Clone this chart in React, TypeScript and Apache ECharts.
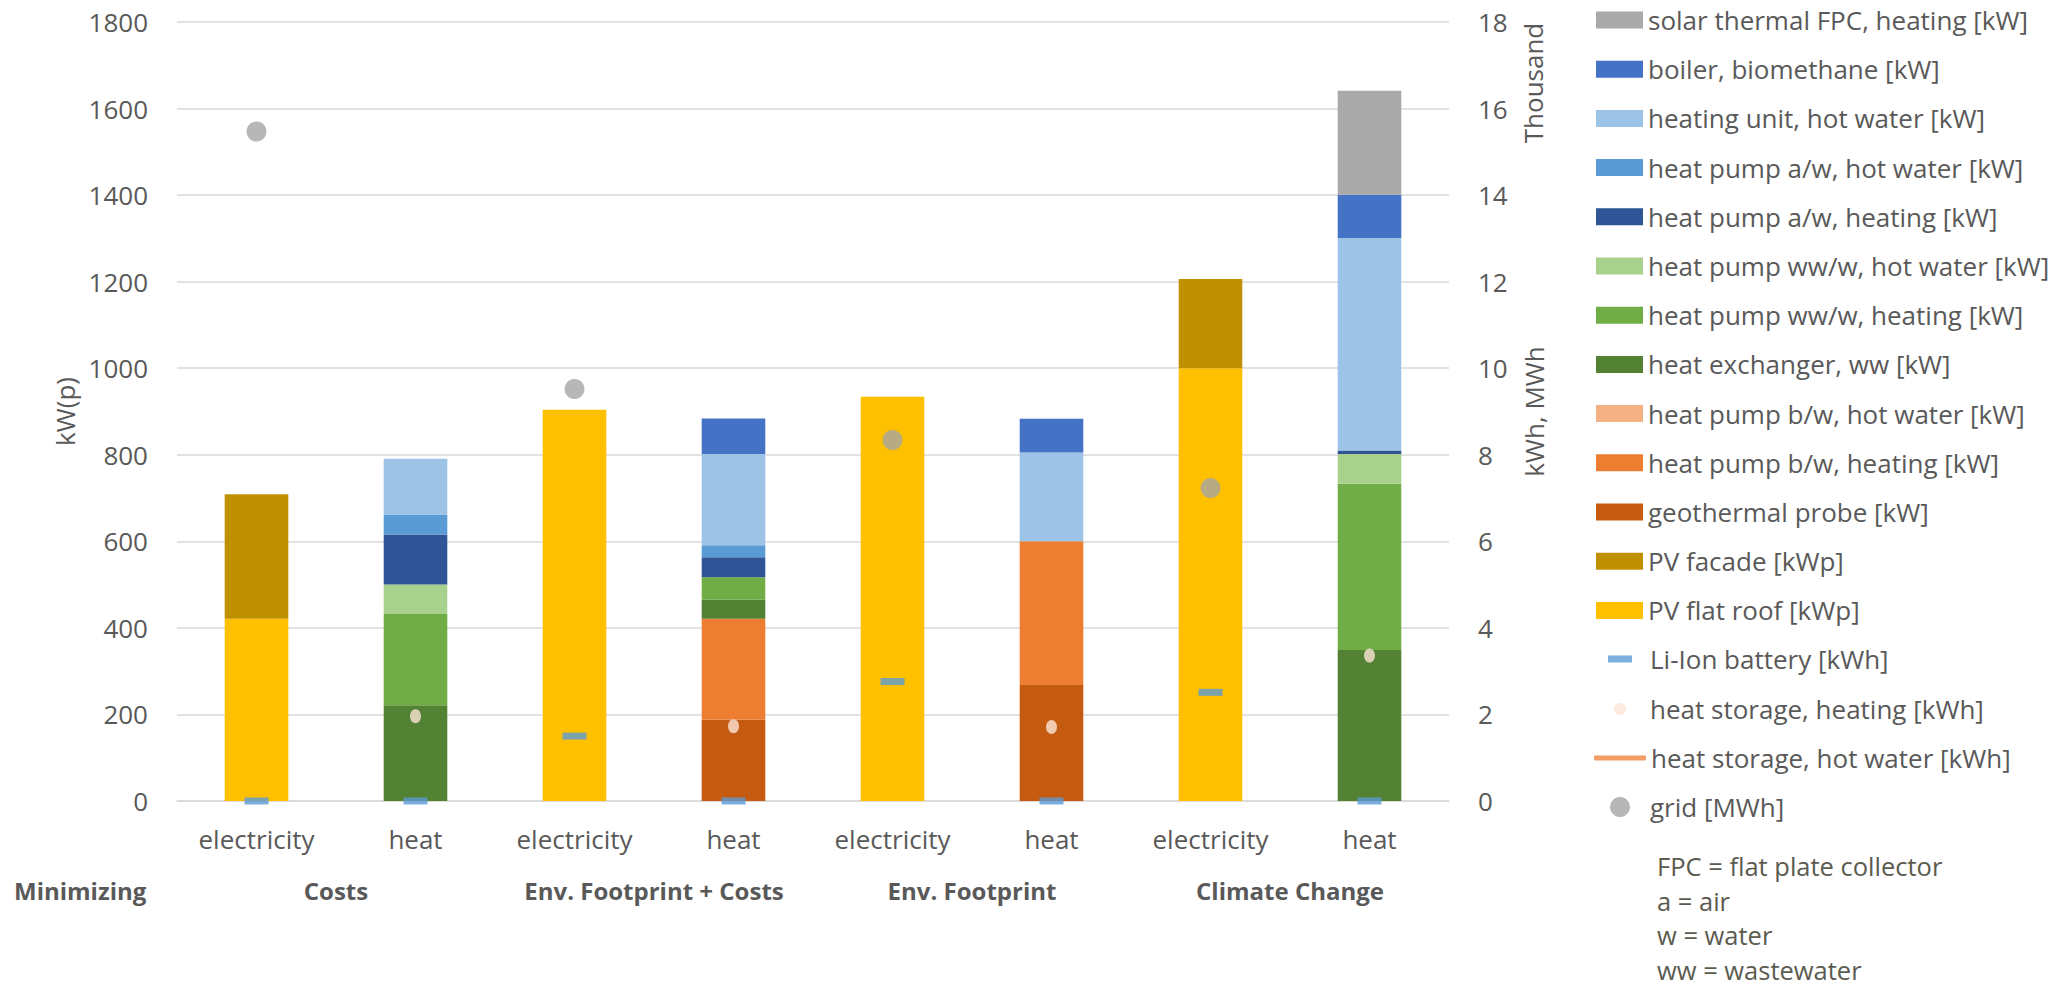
import React, { useEffect, useRef } from "react";
import * as echarts from "echarts";

const categories = ["electricity", "heat", "electricity", "heat", "electricity", "heat", "electricity", "heat"];
const groups = ["Costs", "Env. Footprint + Costs", "Env. Footprint", "Climate Change"];

// kW(p) — stacked bars, bottom to top
const pvFlatRoof = [421, 0, 904, 0, 934, 0, 1000, 0];
const pvFacade = [288, 0, 0, 0, 0, 0, 206, 0];
const geothermalProbe = [0, 0, 0, 188, 0, 268, 0, 0];
const hpBwHeating = [0, 0, 0, 233, 0, 332, 0, 0];
const hpBwHotWater = [0, 0, 0, 0, 0, 0, 0, 0];
const heatExchangerWw = [0, 221, 0, 44, 0, 0, 0, 349];
const hpWwHeating = [0, 211, 0, 52, 0, 0, 0, 384];
const hpWwHotWater = [0, 68, 0, 0, 0, 0, 0, 69];
const hpAwHeating = [0, 116, 0, 46, 0, 0, 0, 8];
const hpAwHotWater = [0, 46, 0, 28, 0, 0, 0, 0];
const heatingUnitHotWater = [0, 129, 0, 211, 0, 205, 0, 491];
const boilerBiomethane = [0, 0, 0, 82, 0, 78, 0, 100];
const solarThermalFpc = [0, 0, 0, 0, 0, 0, 0, 240];

// secondary axis (thousand kWh / MWh)
const liIonBattery = [0, 0, 1.5, 0, 2.76, 0, 2.51, 0];
const heatStorageHeating = [null, 1.96, null, 1.73, null, 1.71, null, 3.36];
const heatStorageHotWater = [null, null, null, null, null, null, null, null];
const gridMWh = [15.47, null, 9.52, null, 8.34, null, 7.23, null];

const notes = ["FPC = flat plate collector", "a = air", "w = water", "ww = wastewater"];

const FONT = "'Open Sans', 'Liberation Sans', sans-serif";
const TXT = "#595959";

const barDefs = [
  { name: "PV flat roof [kWp]", data: pvFlatRoof, color: "#FFC000" },
  { name: "PV facade [kWp]", data: pvFacade, color: "#BF9000" },
  { name: "geothermal probe [kW]", data: geothermalProbe, color: "#C55A11" },
  { name: "heat pump b/w, heating [kW]", data: hpBwHeating, color: "#ED7D31" },
  { name: "heat pump b/w, hot water [kW]", data: hpBwHotWater, color: "#F4B183" },
  { name: "heat exchanger, ww [kW]", data: heatExchangerWw, color: "#548235" },
  { name: "heat pump ww/w, heating [kW]", data: hpWwHeating, color: "#70AD47" },
  { name: "heat pump ww/w, hot water [kW]", data: hpWwHotWater, color: "#A9D18E" },
  { name: "heat pump a/w, heating [kW]", data: hpAwHeating, color: "#2F5597" },
  { name: "heat pump a/w, hot water [kW]", data: hpAwHotWater, color: "#5B9BD5" },
  { name: "heating unit, hot water [kW]", data: heatingUnitHotWater, color: "#9DC3E6" },
  { name: "boiler, biomethane [kW]", data: boilerBiomethane, color: "#4472C4" },
  { name: "solar thermal FPC, heating [kW]", data: solarThermalFpc, color: "#A9A9A9" },
];

const legendText = { color: TXT, fontSize: 26, fontFamily: FONT, lineHeight: 27 };

function buildOption() {
  const series: any[] = barDefs.map((b) => ({
    name: b.name,
    type: "bar",
    stack: "total",
    data: b.data,
    barWidth: "40%",
    itemStyle: { color: b.color },
    emphasis: { disabled: true },
  }));
  series.push(
    {
      name: "Li-Ion battery [kWh]",
      type: "scatter",
      yAxisIndex: 1,
      data: liIonBattery,
      symbol: "rect",
      symbolSize: [24, 7],
      itemStyle: { color: "#5B9BD5" },
      z: 5,
    },
    {
      name: "heat storage, heating [kWh]",
      type: "scatter",
      yAxisIndex: 1,
      data: heatStorageHeating,
      symbol: "circle",
      symbolSize: [11, 14],
      itemStyle: { color: "#FBE5D6" },
      z: 5,
    },
    {
      name: "heat storage, hot water [kWh]",
      type: "line",
      yAxisIndex: 1,
      data: heatStorageHotWater,
      symbol: "none",
      lineStyle: { color: "#F29E66", width: 4 },
      itemStyle: { color: "#F29E66" },
      z: 5,
    },
    {
      name: "grid [MWh]",
      type: "scatter",
      yAxisIndex: 1,
      data: gridMWh,
      symbol: "circle",
      symbolSize: 20,
      itemStyle: { color: "#A5A5A5" },
      z: 5,
    }
  );

  const mainLegendNames = barDefs.map((b) => b.name).reverse();

  return {
    animation: false,
    backgroundColor: "#ffffff",
    textStyle: { fontFamily: FONT },
    grid: { left: 177, right: 623, top: 22, bottom: 185, containLabel: false },
    legend: [
      {
        type: "plain",
        orient: "vertical",
        left: 1596,
        top: 6.5,
        padding: 0,
        itemWidth: 47,
        itemHeight: 17,
        itemGap: 22.2,
        icon: "rect",
        data: mainLegendNames,
        textStyle: legendText,
      },
      {
        orient: "vertical",
        left: 1608,
        top: 645.5,
        padding: 0,
        itemWidth: 24,
        itemHeight: 7,
        data: [{ name: "Li-Ion battery [kWh]", icon: "rect" }],
        textStyle: { ...legendText, padding: [0, 0, 0, 13] },
      },
      {
        orient: "vertical",
        left: 1614,
        top: 695.5,
        padding: 0,
        itemWidth: 12,
        itemHeight: 12,
        data: [{ name: "heat storage, heating [kWh]", icon: "circle" }],
        textStyle: { ...legendText, padding: [0, 0, 0, 19] },
      },
      {
        orient: "vertical",
        left: 1594,
        top: 744.5,
        padding: 0,
        itemWidth: 52,
        itemHeight: 5,
        data: [{ name: "heat storage, hot water [kWh]", icon: "roundRect" }],
        textStyle: legendText,
      },
      {
        orient: "vertical",
        left: 1610,
        top: 793.5,
        padding: 0,
        itemWidth: 20,
        itemHeight: 20,
        data: [{ name: "grid [MWh]", icon: "circle" }],
        textStyle: { ...legendText, padding: [0, 0, 0, 15] },
      },
    ],
    xAxis: [
      {
        type: "category",
        data: categories,
        position: "bottom",
        axisLine: { show: true, lineStyle: { color: "#D9D9D9", width: 1.5 } },
        axisTick: { show: false },
        axisLabel: { color: TXT, fontSize: 26, fontFamily: FONT, margin: 25, interval: 0 },
        splitLine: { show: false },
      },
      {
        type: "category",
        data: groups,
        position: "bottom",
        axisLine: { show: false },
        axisTick: { show: false },
        axisLabel: { color: TXT, fontSize: 24, fontWeight: "bold", fontFamily: FONT, margin: 77, interval: 0 },
        splitLine: { show: false },
      },
    ],
    yAxis: [
      {
        type: "value",
        min: 0,
        max: 1800,
        interval: 200,
        position: "left",
        name: "kW(p)",
        nameLocation: "middle",
        nameGap: 97,
        nameTextStyle: { color: TXT, fontSize: 26, fontFamily: FONT },
        axisLine: { show: false },
        axisTick: { show: false },
        axisLabel: {
          color: TXT,
          fontSize: 26,
          fontFamily: FONT,
          margin: 29,
          formatter: (v: number) => String(v),
        },
        splitLine: { show: true, lineStyle: { color: "#D9D9D9", width: 1.5 } },
      },
      {
        type: "value",
        min: 0,
        max: 18,
        interval: 2,
        position: "right",
        name: "kWh, MWh",
        nameLocation: "middle",
        nameGap: 72,
        nameTextStyle: { color: TXT, fontSize: 26, fontFamily: FONT },
        axisLine: { show: false },
        axisTick: { show: false },
        axisLabel: {
          color: TXT,
          fontSize: 26,
          fontFamily: FONT,
          margin: 29,
          formatter: (v: number) => String(v),
        },
        splitLine: { show: false },
      },
    ],
    graphic: [
      {
        type: "text",
        x: 1533,
        y: 83,
        rotation: Math.PI / 2,
        style: {
          text: "Thousand",
          fill: TXT,
          fontSize: 26,
          fontFamily: FONT,
          align: "center",
          verticalAlign: "middle",
        },
      },
      {
        type: "text",
        x: 14,
        y: 890,
        style: {
          text: "Minimizing",
          fill: TXT,
          fontSize: 24,
          fontWeight: "bold",
          fontFamily: FONT,
          align: "left",
          verticalAlign: "middle",
        },
      },
      ...notes.map((t, i) => ({
        type: "text",
        x: 1657,
        y: 866 + i * 34.7,
        style: {
          text: t,
          fill: "#5B5B4F",
          fontSize: 25.5,
          lineHeight: 28,
          fontFamily: FONT,
          align: "left",
          verticalAlign: "middle",
        },
      })),
    ],
    series,
  };
}

export default function App() {
  const ref = useRef<HTMLDivElement>(null);
  useEffect(() => {
    if (!ref.current) return;
    const chart = echarts.init(ref.current, null, { renderer: "svg" });
    chart.setOption(buildOption() as any);
    return () => chart.dispose();
  }, []);
  return (
    <div
      ref={ref}
      style={{ position: "fixed", left: 0, top: 0, width: 2072, height: 986, background: "#ffffff" }}
    />
  );
}
